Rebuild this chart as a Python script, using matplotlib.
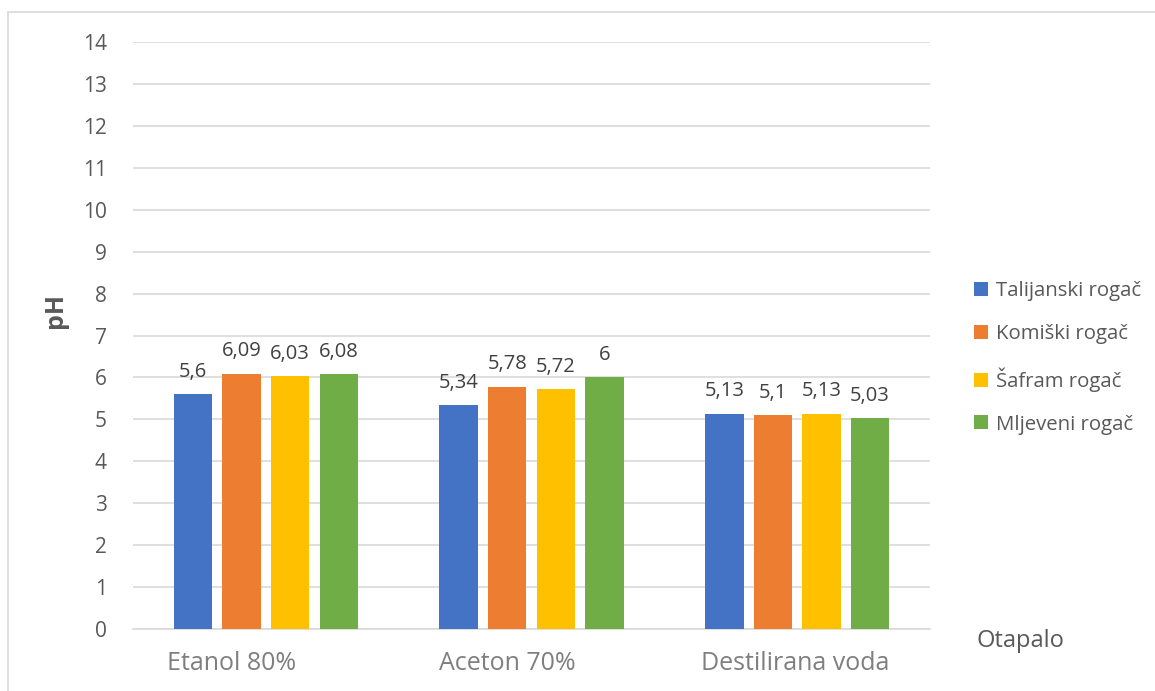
import numpy as np
import matplotlib.pyplot as plt
from matplotlib.patches import Rectangle
import matplotlib.transforms as mtransforms

plt.rcParams['font.family'] = ['Open Sans', 'DejaVu Sans']

categories = ['Etanol 80%', 'Aceton 70%', 'Destilirana voda']
series = ['Talijanski rogač', 'Komiški rogač', 'Šafram rogač', 'Mljeveni rogač']
talijanski = [5.6, 5.34, 5.13]
komiski = [6.09, 5.78, 5.10]
safram = [6.03, 5.72, 5.13]
mljeveni = [6.08, 6.00, 5.03]
colors = ['#4472C4', '#ED7D31', '#FFC000', '#70AD47']

values = [talijanski, komiski, safram, mljeveni]

def fmt(v):
    s = ('%.2f' % v).rstrip('0').rstrip('.')
    return s.replace('.', ',')

fig = plt.figure(figsize=(11.55, 6.91), dpi=100)
ax = fig.add_axes([0.1152, 0.0897, 0.69, 0.8495])

x = np.arange(len(categories))
w = 0.145
step = 0.183
txt = '#595959'
for i, (name, vals, c) in enumerate(zip(series, values, colors)):
    pos = x + (i - 1.5) * step
    bars = ax.bar(pos, vals, w, color=c, label=name, zorder=3)
    for b, v in zip(bars, vals):
        ax.text(b.get_x() + b.get_width() / 2, v + 0.3, fmt(v),
                ha='center', va='bottom', fontsize=14.5, color='#404040')

ax.set_xlim(-0.5, 2.5)
ax.set_ylim(0, 14)
ax.set_yticks(range(0, 15))
ax.tick_params(axis='y', length=0, labelsize=15, labelcolor=txt, pad=19)
ax.tick_params(axis='x', length=0, labelsize=18, labelcolor='#7f7f7f', pad=16)
ax.set_xticks(x)
ax.set_xticklabels(categories)
shifts = [-34, -24, -2]
for lab, s in zip(ax.get_xticklabels(), shifts):
    lab.set_transform(lab.get_transform() + mtransforms.ScaledTranslation(s / 100, 0, fig.dpi_scale_trans))
ax.grid(axis='y', color='#d9d9d9', lw=1.2, zorder=0)
for sp in ['top', 'right', 'left']:
    ax.spines[sp].set_visible(False)
ax.spines['bottom'].set_color('#d9d9d9')
ax.spines['bottom'].set_linewidth(1.2)

fig.text(0.048, 0.55, 'pH', rotation=90, ha='center', va='center',
         fontsize=18, fontweight='bold', color=txt)
fig.text(0.8455, 0.072, 'Otapalo', ha='left', va='center', fontsize=17, color=txt)

leg = ax.legend(loc='upper left', bbox_to_anchor=(1.045, 0.606), frameon=False,
                fontsize=14.7, handlelength=0.68, handleheight=0.68,
                handletextpad=0.4, labelspacing=1.12, borderaxespad=0)
for t in leg.get_texts():
    t.set_color(txt)

fig.patches.append(Rectangle((8 / 1155, -0.1), 1.2, 1.1 - 12 / 691 + 0.0,
                             transform=fig.transFigure, fill=False,
                             edgecolor='#d9d9d9', lw=1.2))

fig.savefig('out.png', dpi=100)
